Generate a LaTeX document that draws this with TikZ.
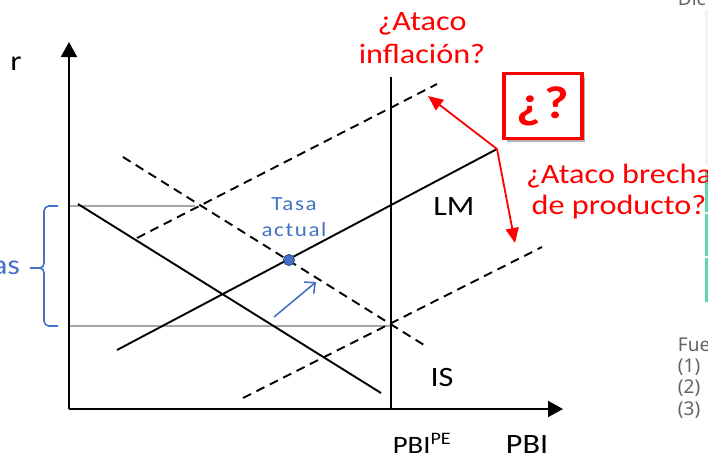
\documentclass[tikz,border=0pt]{standalone}
\usepackage{fontspec}
\setmainfont{Carlito}[FakeStretch=1.15]
\newfontfamily\spacedfont{Carlito}[FakeStretch=1.15, LetterSpace=8]
\newfontfamily\notefont{Noto Sans}
\usetikzlibrary{arrows.meta,shadows}

\definecolor{tasablue}{HTML}{4472C4}
\definecolor{dotline}{HTML}{2F528F}
\definecolor{guidegray}{HTML}{A6A6A6}
\definecolor{panelgray}{HTML}{F2F2F2}
\definecolor{mint}{HTML}{5FD6B6}
\definecolor{notegray}{HTML}{5F6368}

\begin{document}
\begin{tikzpicture}[x=1pt, y=-1pt, line width=1.9pt,
	every node/.style={font=\fontsize{28}{33}\selectfont, inner sep=0pt},
	>={Triangle[length=15pt,width=16pt]},
	shifted/.style={dash pattern=on 9pt off 6pt},
	guide/.style={guidegray},
	ataco/.style={red, align=center},
	redarrow/.style={red, line width=1.8pt, -{Triangle[length=15pt,width=13pt]}},
	note/.style={notegray, font=\notefont\fontsize{19}{22}\selectfont, anchor=west}]
	\useasboundingbox (0,0) rectangle (708,459);
	\clip (0,0) rectangle (708,459);
	% bits of the page around the chart
	\fill[panelgray] (705,10) rectangle (708,165);
	\fill[mint] (705,170) rectangle (708,212) (705,214) rectangle (708,256) (705,258) rectangle (708,302);
	\node[note, anchor=base west] (dic) at (677,5) {Dic};
	\node[note] (fue) at (677,345) {Fue};
	\node[note] (nota1) at (677,367) {(1)};
	\node[note] (nota2) at (677,388) {(2)};
	\node[note] (nota3) at (677,410) {(3)};
	% guides
	\draw[guide] (69,206) -- (195,206);
	\draw[guide] (69,326) -- (392,326);
	% axes
	\coordinate (origen) at (69,409);
	\coordinate (rtop) at (69,42);
	\coordinate (pbiend) at (563,409);
	\draw[->] (origen) -- (rtop);
	\draw[->] (origen) -- (pbiend);
	\node (r) at (16,64) {r};
	\node (pbi) at (527,445) {PBI};
	\node[font=\fontsize{25}{30}\selectfont] (pbipe) at (422,443) {PBI\textsuperscript{PE}};
	% potential output
	\draw (391,409) -- (391,77);
	% IS and LM
	\draw (78,204) -- (381,393);
	\draw (117,350) -- (497,149);
	\draw[shifted] (123,157) -- (424,345);
	\draw[shifted] (137,238) -- (437,84);
	\draw[shifted] (243,398) -- (542,247);
	\node (lm) at (454,207) {LM};
	\node (is) at (442,377) {IS};
	% current rate
	\node[circle, fill=tasablue, draw=dotline, line width=1pt, minimum size=11pt] (tasa) at (289,260) {};
	\node[tasablue, align=center, font=\spacedfont\fontsize{20}{26}\selectfont] (tasalbl) at (294,217) {Tasa\\actual};
	\coordinate (subeA) at (274,317);
	\coordinate (subeB) at (316,282);
	\draw[tasablue, line width=1.6pt, -{Straight Barb[length=8pt,width=15pt]}] (subeA) -- (subeB);
	% brace
	\draw[tasablue, line width=1.6pt] (58,206) -- (49,206) to[out=180,in=90] (44,211) -- (44,263)
		to[out=-90,in=0] (40,268) to[out=0,in=90] (44,273) -- (44,321) to[out=-90,in=180] (49,326) -- (58,326);
	\coordinate (punta) at (40,268);
	\coordinate (puntaizq) at (30,268);
	\draw[tasablue, line width=1.6pt] (punta) -- (puntaizq);
	\node[tasablue, anchor=east] (tasas) at (21,268) {as};
	% questions
	\node[draw=red, line width=3.5pt, fill=white, text=red,
		drop shadow={shadow xshift=3pt, shadow yshift=-3pt, fill=black, opacity=0.3},
		minimum width=78pt, minimum height=65pt,
		font=\bfseries\fontsize{46}{46}\selectfont] (duda) at (543,106) {¿\hspace{4pt}?};
	\coordinate (lmend) at (497,149);
	\coordinate (lmarriba) at (428,96);
	\coordinate (lmabajo) at (515,243);
	\draw[redarrow] (lmend) -- (lmarriba);
	\draw[redarrow] (lmend) -- (lmabajo);
	\node[ataco] (inflacion) at (422,38) {¿Ataco\\inflación?};
	\node[ataco, font=\fontsize{28}{31}\selectfont] (brecha) at (619,192) {¿Ataco brecha\\de producto?};
\end{tikzpicture}
\end{document}
